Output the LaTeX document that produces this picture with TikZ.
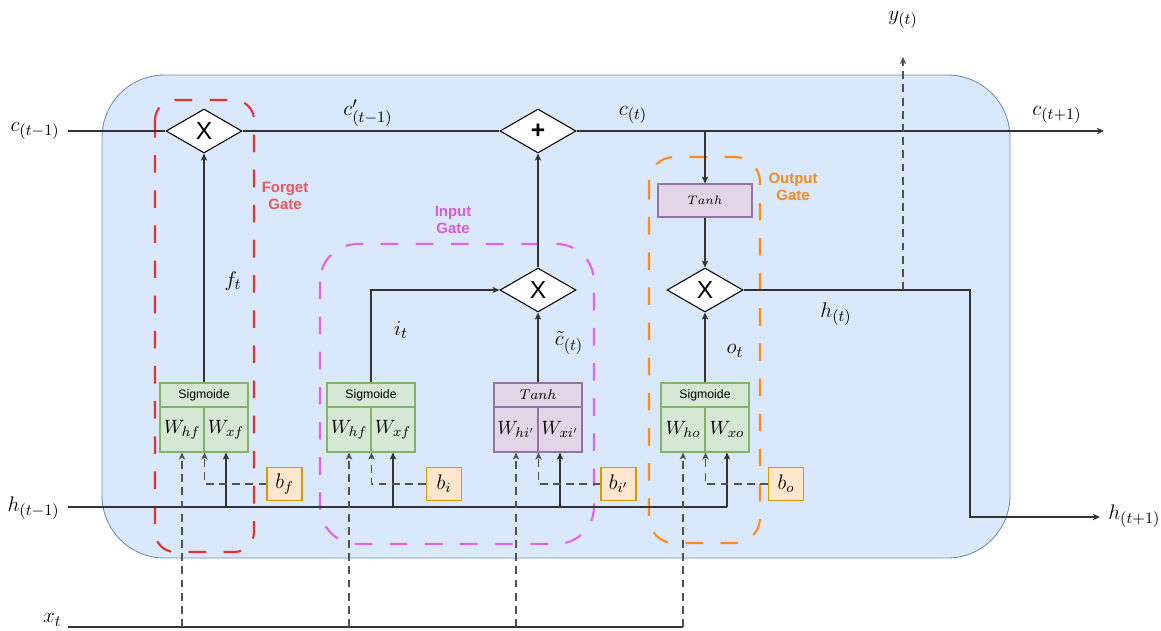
\documentclass[tikz,border=0pt]{standalone}
\usepackage{fontspec}
\setsansfont{Liberation Sans}
\usetikzlibrary{shapes.geometric,arrows.meta,calc}
\definecolor{bgfill}{HTML}{DAE8FC}
\definecolor{bgline}{HTML}{6C8EBF}
\definecolor{grfill}{HTML}{D5E8D4}
\definecolor{grline}{HTML}{82B366}
\definecolor{pufill}{HTML}{E1D5E7}
\definecolor{puline}{HTML}{9673A6}
\definecolor{orfill}{HTML}{FFE6CC}
\definecolor{orline}{HTML}{D79B00}
\definecolor{conncol}{HTML}{333333}
\definecolor{redgate}{HTML}{E8302E}
\definecolor{redtext}{HTML}{E25A5A}
\definecolor{maggate}{HTML}{E464E4}
\definecolor{magtext}{HTML}{D95CD9}
\definecolor{orgate}{HTML}{FF8C1A}
\definecolor{ortext}{HTML}{F28A1E}
\tikzset{
  conn/.style={draw=conncol,line width=0.6pt},
  arr/.style={conn,-{Stealth[length=4pt,width=3.6pt,inset=1pt]}},
  dconn/.style={conn,dash pattern=on 4.5pt off 3pt},
  darr/.style={arr,draw=conncol!85,dash pattern=on 4.5pt off 3pt},
  gatebox/.style={line width=1.2pt,dash pattern=on 10pt off 10pt},
  gatelabel/.style={font=\sffamily\bfseries\fontsize{8.5}{10}\selectfont,align=center},
  opnode/.style={diamond,draw=black,fill=white,line width=0.6pt,minimum width=1.52cm,minimum height=0.88cm,inner sep=0pt,font=\sffamily\fontsize{14}{14}\selectfont},
  actgreen/.style={draw=grline,fill=grfill,line width=0.6pt,minimum width=1.76cm,minimum height=0.48cm,inner sep=0pt,font=\sffamily\fontsize{7}{8}\selectfont},
  actpurple/.style={draw=puline,fill=pufill,line width=0.6pt,minimum width=1.76cm,minimum height=0.48cm,inner sep=0pt,font=\fontsize{8.5}{9}\selectfont},
  wgreen/.style={draw=grline,fill=grfill,line width=0.6pt,minimum width=0.88cm,minimum height=0.9cm,inner sep=0pt,font=\fontsize{11}{12}\selectfont},
  wpurple/.style={draw=puline,fill=pufill,line width=0.6pt,minimum width=0.88cm,minimum height=0.9cm,inner sep=0pt,font=\fontsize{11}{12}\selectfont},
  bias/.style={draw=orline,fill=orfill,line width=0.6pt,minimum width=0.7cm,minimum height=0.66cm,inner sep=0pt,font=\fontsize{12}{14}\selectfont},
  lbl/.style={inner sep=0pt,font=\fontsize{12.5}{14}\selectfont},
}
\begin{document}
\begin{tikzpicture}[x=0.02cm,y=-0.02cm]
\useasboundingbox (0,0) rectangle (1161,630);
% background cell
\path[draw=bgline,fill=bgfill,line width=0.5pt,rounded corners=1.25cm] (102,75) rectangle (1010,558);

% gate outlines
\draw[gatebox,draw=redgate,rounded corners=0.4cm] (155,100) rectangle (254,552);
\draw[gatebox,draw=maggate,rounded corners=0.75cm] (320,244) rectangle (594,544);
\draw[gatebox,draw=orgate,rounded corners=0.5cm] (649,157) rectangle (760,543);
\node[gatelabel,text=redtext] (lforget) at (285,196) {Forget\\Gate};
\node[gatelabel,text=magtext] (linput) at (453,220) {Input\\Gate};
\node[gatelabel,text=ortext] (loutput) at (793,187) {Output\\Gate};

% operators
\node[opnode] (dF) at (204,131) {X};
\node[opnode] (dP) at (538,131) {\textbf{+}};
\node[opnode] (dI) at (538,290) {X};
\node[opnode] (dO) at (705,290) {X};

% output tanh
\node[actpurple,minimum width=1.88cm,minimum height=0.66cm,font=\fontsize{7}{8}\selectfont] (tanhO) at (705,200.5) {$Tanh$};

% activation blocks
\node[actgreen] (sigF) at (204,395) {Sigmoide};
\node[wgreen] (whf) at (182,429.5) {$W_{hf}$};
\node[wgreen] (wxf) at (226,429.5) {$W_{xf}$};
\node[actgreen] (sigI) at (371,395) {Sigmoide};
\node[wgreen] (whi) at (349,429.5) {$W_{hf}$};
\node[wgreen] (wxi) at (393,429.5) {$W_{xf}$};
\node[actpurple] (tanhI) at (538,395) {$Tanh$};
\node[wpurple] (whc) at (516,429.5) {$W_{hi'}$};
\node[wpurple] (wxc) at (560,429.5) {$W_{xi'}$};
\node[actgreen] (sigO) at (705,395) {Sigmoide};
\node[wgreen] (who) at (683,429.5) {$W_{ho}$};
\node[wgreen] (wxo) at (727,429.5) {$W_{xo}$};

% biases
\node[bias] (bf) at (284.5,484) {$b_f$};
\node[bias] (bi) at (444,484) {$b_i$};
\node[bias] (bc) at (618.5,484) {$b_{i'}$};
\node[bias] (bo) at (786,484) {$b_o$};

% coordinates
\coordinate (cin) at (68,131);
\coordinate (cout) at (1104,131);
\coordinate (hin) at (68,507);
\coordinate (xin) at (68,627);
\coordinate (xend) at (683,627);
\coordinate (ctap) at (705,131);
\coordinate (hturn) at (970,290);
\coordinate (hout) at (1100,517);
\coordinate (ytap) at (903,290);
\coordinate (yout) at (903,57);

% cell state line
\draw[conn] (cin) -- (dF.west);
\draw[conn] (dF.east) -- (dP.west);
\draw[arr] (dP.east) -- (cout);
\draw[arr] (ctap) -- (tanhO.north);
\draw[arr] (tanhO.south) -- (dO.north);

% gate connections
\draw[arr] (sigF.north) -- (dF.south);
\draw[arr] (sigI.north) |- (dI.west);
\draw[arr] (tanhI.north) -- (dI.south);
\draw[arr] (dI.north) -- (dP.south);
\draw[arr] (sigO.north) -- (dO.south);

% hidden output
\draw[arr] (dO.east) -- (hturn) |- (hout);
\draw[darr] (ytap) -- (yout);

% h(t-1) line and branches
\draw[conn] (hin) -- (wxo.south |- hin);
\draw[arr] (wxo.south |- hin) -- (wxo.south);
\draw[arr] (wxf.south |- hin) -- (wxf.south);
\draw[arr] (wxi.south |- hin) -- (wxi.south);
\draw[arr] (wxc.south |- hin) -- (wxc.south);

% x_t line and branches
\draw[conn] (xin) -- (xend);
\draw[darr] (whf.south |- xin) -- (whf.south);
\draw[darr] (whi.south |- xin) -- (whi.south);
\draw[darr] (whc.south |- xin) -- (whc.south);
\draw[darr] (who.south |- xin) -- (who.south);

% bias lines
\draw[darr] (bf.west) -| (whf.south east);
\draw[darr] (bi.west) -| (whi.south east);
\draw[darr] (bc.west) -| (whc.south east);
\draw[darr] (bo.west) -| (who.south east);

% labels
\node[lbl,anchor=east] (lcin) at (60,131) {$c_{(t-1)}$};
\node[lbl,anchor=east] (lhin) at (60,508) {$h_{(t-1)}$};
\node[lbl,anchor=east] (lxin) at (62,620) {$x_t$};
\node[lbl] (lcp) at (368,113) {$c'_{(t-1)}$};
\node[lbl] (lct) at (633,115) {$c_{(t)}$};
\node[lbl] (lcout) at (1057,115) {$c_{(t+1)}$};
\node[lbl] (ly) at (903,20) {$y_{(t)}$};
\node[lbl] (lf) at (233,281) {$f_t$};
\node[lbl] (li) at (401,330) {$i_t$};
\node[lbl] (lc) at (569,343) {$\tilde{c}_{(t)}$};
\node[lbl] (lo) at (735,351) {$o_t$};
\node[lbl] (lh) at (836,314) {$h_{(t)}$};
\node[lbl,anchor=west] (lhout) at (1108,516) {$h_{(t+1)}$};
\end{tikzpicture}
\end{document}
